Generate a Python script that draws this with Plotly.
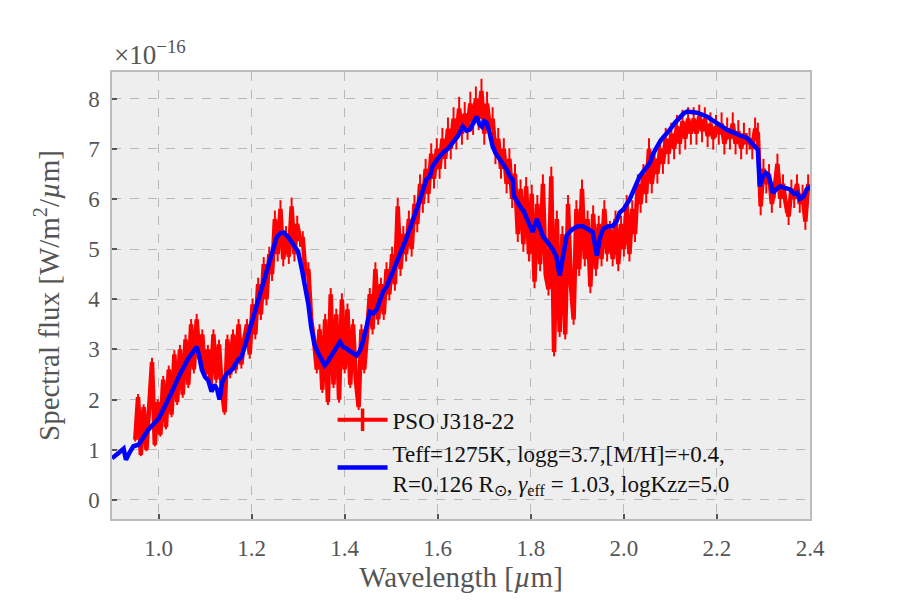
import plotly.graph_objects as go

# Observed spectrum (flux in units of 1e-16 W/m^2/um)
wl_obs = [
    0.950, 0.956, 0.962, 0.968, 0.974, 0.980, 0.986, 0.992, 0.998, 1.004,
    1.010, 1.016, 1.022, 1.028, 1.034, 1.040, 1.046, 1.052, 1.058, 1.064,
    1.070, 1.076, 1.082, 1.088, 1.094, 1.100, 1.106, 1.112, 1.118, 1.124,
    1.130, 1.136, 1.142, 1.148, 1.154, 1.160, 1.166, 1.172, 1.178, 1.184,
    1.190, 1.196, 1.202, 1.208, 1.214, 1.220, 1.226, 1.232, 1.238, 1.244,
    1.250, 1.256, 1.262, 1.268, 1.274, 1.280, 1.286, 1.292, 1.298, 1.304,
    1.310, 1.316, 1.322, 1.328, 1.334, 1.340, 1.346, 1.352, 1.358, 1.364,
    1.370, 1.376, 1.382, 1.388, 1.394, 1.400, 1.406, 1.412, 1.418, 1.424,
    1.430, 1.436, 1.442, 1.448, 1.454, 1.460, 1.466, 1.472, 1.478, 1.484,
    1.490, 1.496, 1.502, 1.508, 1.514, 1.520, 1.526, 1.532, 1.538, 1.544,
    1.550, 1.556, 1.562, 1.568, 1.574, 1.580, 1.586, 1.592, 1.598, 1.604,
    1.610, 1.616, 1.622, 1.628, 1.634, 1.640, 1.646, 1.652, 1.658, 1.664,
    1.670, 1.676, 1.682, 1.688, 1.694, 1.700, 1.706, 1.712, 1.718, 1.724,
    1.730, 1.736, 1.742, 1.748, 1.754, 1.760, 1.766, 1.772, 1.778, 1.784,
    1.790, 1.796, 1.802, 1.808, 1.814, 1.820, 1.826, 1.832, 1.838, 1.844,
    1.850, 1.856, 1.862, 1.868, 1.874, 1.880, 1.886, 1.892, 1.898, 1.904,
    1.910, 1.916, 1.922, 1.928, 1.934, 1.940, 1.946, 1.952, 1.958, 1.964,
    1.970, 1.976, 1.982, 1.988, 1.994, 2.000, 2.006, 2.012, 2.018, 2.024,
    2.030, 2.036, 2.042, 2.048, 2.054, 2.060, 2.066, 2.072, 2.078, 2.084,
    2.090, 2.096, 2.102, 2.108, 2.114, 2.120, 2.126, 2.132, 2.138, 2.144,
    2.150, 2.156, 2.162, 2.168, 2.174, 2.180, 2.186, 2.192, 2.198, 2.204,
    2.210, 2.216, 2.222, 2.228, 2.234, 2.240, 2.246, 2.252, 2.258, 2.264,
    2.270, 2.276, 2.282, 2.288, 2.294, 2.300, 2.306, 2.312, 2.318, 2.324,
    2.330, 2.336, 2.342, 2.348, 2.354, 2.360, 2.366, 2.372, 2.378, 2.384,
    2.390, 2.396,
]
flux_obs = [
    1.20, 2.05, 0.90, 1.85, 1.00, 2.00, 2.75, 1.10, 1.95, 1.30,
    2.40, 1.45, 2.60, 1.70, 2.90, 1.95, 3.00, 2.10, 3.20, 2.30,
    3.50, 2.60, 3.60, 2.80, 3.30, 2.50, 3.00, 2.30, 3.30, 2.40,
    3.10, 2.20, 1.75, 3.20, 2.50, 3.30, 2.60, 3.50, 2.70, 3.20,
    3.50, 2.90, 3.90, 3.30, 4.30, 3.70, 4.70, 4.00, 4.90, 4.50,
    5.60, 4.90, 5.80, 4.80, 5.30, 4.85, 5.85, 4.90, 5.50, 5.20,
    5.20, 4.50, 4.60, 3.60, 3.20, 2.60, 3.40, 2.20, 3.60, 1.95,
    4.10, 2.30, 3.70, 2.00, 4.00, 2.60, 3.80, 2.30, 3.50, 2.40,
    1.85, 3.40, 2.60, 3.30, 4.10, 3.40, 4.60, 3.60, 4.30, 3.70,
    4.60, 4.10, 4.90, 4.30, 5.85, 4.60, 5.30, 4.90, 5.60, 5.00,
    5.90, 5.50, 6.30, 5.90, 6.60, 6.10, 6.90, 6.40, 7.00, 6.60,
    7.20, 6.80, 7.40, 7.00, 7.60, 7.20, 7.80, 7.30, 7.70, 7.40,
    7.90, 7.50, 8.00, 7.60, 8.15, 7.30, 7.90, 7.40, 7.60, 6.90,
    7.20, 6.60, 7.00, 6.30, 6.80, 6.00, 6.50, 5.30, 6.20, 5.10,
    6.25, 4.90, 6.10, 4.35, 5.90, 4.70, 6.30, 4.50, 4.20, 6.45,
    2.95, 5.60, 3.35, 5.30, 3.30, 5.90, 4.30, 3.60, 5.80, 4.60,
    6.20, 4.80, 5.60, 4.25, 5.70, 4.60, 5.50, 4.80, 5.80, 4.90,
    5.40, 4.80, 5.60, 4.70, 5.50, 5.00, 5.90, 4.90, 5.80, 5.30,
    6.30, 5.90, 6.50, 6.10, 7.00, 6.30, 6.80, 6.50, 7.00, 6.70,
    7.20, 6.90, 7.30, 7.00, 7.45, 7.10, 7.55, 7.20, 7.60, 7.30,
    7.60, 7.30, 7.65, 7.35, 7.60, 7.25, 7.50, 7.20, 7.45, 7.30,
    7.50, 7.10, 7.40, 7.20, 7.50, 7.10, 7.35, 7.00, 7.30, 7.10,
    7.20, 7.00, 7.40, 7.30, 5.85, 6.60, 6.30, 6.50, 5.90, 6.20,
    6.70, 6.00, 6.30, 5.90, 5.65, 6.20, 6.00, 6.30, 5.90, 6.10,
    5.55, 6.30,
]

# Best-fit model spectrum
wl_mod = [
    0.900, 0.910, 0.920, 0.925, 0.930, 0.938, 0.946, 0.957, 0.967, 0.978,
    0.990, 1.000, 1.010, 1.020, 1.030, 1.043, 1.054, 1.064, 1.074, 1.082,
    1.088, 1.093, 1.100, 1.107, 1.114, 1.120, 1.126, 1.131, 1.137, 1.145,
    1.152, 1.160, 1.170, 1.178, 1.185, 1.193, 1.200, 1.208, 1.215, 1.222,
    1.228, 1.236, 1.243, 1.254, 1.262, 1.270, 1.280, 1.290, 1.300, 1.308,
    1.315, 1.322, 1.328, 1.335, 1.342, 1.350, 1.357, 1.363, 1.368, 1.375,
    1.382, 1.390, 1.397, 1.404, 1.412, 1.420, 1.426, 1.433, 1.439, 1.447,
    1.454, 1.462, 1.469, 1.476, 1.482, 1.490, 1.497, 1.508, 1.518, 1.530,
    1.540, 1.548, 1.555, 1.562, 1.568, 1.576, 1.583, 1.589, 1.600, 1.611,
    1.622, 1.632, 1.643, 1.654, 1.662, 1.669, 1.677, 1.684, 1.690, 1.695,
    1.700, 1.705, 1.712, 1.718, 1.725, 1.733, 1.740, 1.748, 1.755, 1.761,
    1.764, 1.770, 1.777, 1.785, 1.792, 1.798, 1.804, 1.813, 1.820, 1.826,
    1.835, 1.847, 1.855, 1.862, 1.870, 1.877, 1.884, 1.890, 1.900, 1.912,
    1.922, 1.933, 1.942, 1.948, 1.955, 1.965, 1.976, 1.984, 1.991, 2.000,
    2.013, 2.024, 2.034, 2.042, 2.050, 2.056, 2.063, 2.071, 2.078, 2.084,
    2.092, 2.099, 2.110, 2.120, 2.128, 2.136, 2.147, 2.157, 2.168, 2.179,
    2.190, 2.200, 2.210, 2.221, 2.232, 2.243, 2.254, 2.264, 2.270, 2.277,
    2.283, 2.288, 2.292, 2.296, 2.299, 2.305, 2.310, 2.316, 2.320, 2.328,
    2.336, 2.346, 2.357, 2.366, 2.372, 2.378, 2.386, 2.393, 2.400,
]
flux_mod = [
    0.83, 0.92, 0.98, 1.02, 0.80, 0.95, 1.07, 1.10, 1.25, 1.40,
    1.52, 1.62, 1.80, 1.98, 2.18, 2.45, 2.65, 2.82, 2.95, 3.05,
    2.85, 2.60, 2.45, 2.38, 2.16, 2.30, 2.20, 2.00, 2.35, 2.50,
    2.55, 2.62, 2.78, 2.85, 3.05, 3.30, 3.55, 3.80, 4.00, 4.25,
    4.47, 4.70, 4.94, 5.24, 5.32, 5.33, 5.22, 5.10, 4.95, 4.60,
    4.30, 3.90, 3.45, 3.10, 2.95, 2.78, 2.68, 2.75, 2.82, 2.95,
    3.05, 3.15, 3.05, 3.02, 2.96, 2.92, 2.88, 2.98, 3.15, 3.45,
    3.75, 3.72, 3.80, 3.98, 4.14, 4.25, 4.40, 4.65, 4.87, 5.15,
    5.40, 5.65, 5.80, 6.00, 6.20, 6.39, 6.45, 6.65, 6.80, 6.92,
    7.00, 7.12, 7.25, 7.44, 7.36, 7.38, 7.50, 7.64, 7.48, 7.44,
    7.55, 7.52, 7.30, 7.05, 6.90, 6.79, 6.70, 6.59, 6.45, 6.39,
    6.05, 5.95, 5.85, 5.75, 5.60, 5.45, 5.34, 5.60, 5.40, 5.26,
    5.15, 5.00, 4.85, 4.47, 4.90, 5.26, 5.35, 5.40, 5.45, 5.46,
    5.40, 5.34, 4.87, 5.20, 5.40, 5.45, 5.46, 5.55, 5.73, 5.80,
    6.00, 6.25, 6.45, 6.55, 6.65, 6.72, 6.90, 7.05, 7.15, 7.22,
    7.30, 7.38, 7.52, 7.64, 7.70, 7.74, 7.73, 7.72, 7.68, 7.64,
    7.57, 7.52, 7.45, 7.38, 7.33, 7.28, 7.25, 7.22, 7.16, 7.12,
    7.05, 6.98, 6.25, 6.38, 6.45, 6.52, 6.48, 6.30, 6.12, 6.20,
    6.25, 6.22, 6.19, 6.10, 6.12, 6.00, 6.05, 6.19, 6.25,
]

x_ticks = [1.0, 1.2, 1.4, 1.6, 1.8, 2.0, 2.2, 2.4]
x_tick_labels = ["1.0", "1.2", "1.4", "1.6", "1.8", "2.0", "2.2", "2.4"]
y_ticks = [0, 1, 2, 3, 4, 5, 6, 7, 8]

label_obs = "PSO J318-22"
label_mod = ("Teff=1275K, logg=3.7,[M/H]=+0.4,<br>"
             "R=0.126 R<sub>⊙</sub>, <i>γ</i><sub>eff</sub> = 1.03, logKzz=5.0")

FONT = "Liberation Serif"
TXT = "#555555"

fig = go.Figure()

fig.add_trace(go.Scatter(
    x=wl_obs, y=flux_obs, mode="lines",
    line=dict(color="#ff0000", width=4.5),
    error_y=dict(type="percent", value=3, color="#ff0000", thickness=2, width=0),
    showlegend=False,
))
# legend entry (errorbar-style glyph)
fig.add_trace(go.Scatter(
    x=[None], y=[None], mode="lines+markers", name=label_obs,
    line=dict(color="#ff0000", width=4),
    marker=dict(symbol="line-ns", size=20, color="#ff0000",
                line=dict(color="#ff0000", width=3.5)),
))
fig.add_trace(go.Scatter(
    x=wl_mod, y=flux_mod, mode="lines", name=label_mod,
    line=dict(color="#0000ff", width=4.5),
))

fig.update_layout(
    width=900, height=600, autosize=False,
    margin=dict(l=112, r=90, t=72, b=79),
    paper_bgcolor="white", plot_bgcolor="#eeeeee",
    font=dict(family=FONT, size=23, color=TXT),
    legend=dict(x=0.316, y=0.27, xanchor="left", yanchor="top", itemwidth=50,
                bgcolor="rgba(0,0,0,0)",
                font=dict(family=FONT, size=23, color="#111111"),
                tracegroupgap=0),
    annotations=[dict(text="×10<sup>−16</sup>", xref="paper", yref="paper",
                      x=0, y=1.0, xanchor="left", yanchor="bottom",
                      showarrow=False,
                      font=dict(family=FONT, size=27, color=TXT))],
)
fig.update_xaxes(
    range=[0.9, 2.4], tickvals=x_ticks, ticktext=x_tick_labels,
    ticks="inside", ticklen=5, tickwidth=1.5, tickcolor="#555555",
    tickfont=dict(family=FONT, size=23, color=TXT),
    showgrid=True, gridcolor="#b8b8b8", griddash="dash", gridwidth=1,
    showline=True, linecolor="#bcbcbc", linewidth=1.5, mirror=True,
    zeroline=False, ticklabelstandoff=8,
    title=dict(text="Wavelength [<i>µ</i>m]",
               font=dict(family=FONT, size=29, color=TXT), standoff=6),
)
fig.update_yaxes(
    range=[-0.38, 8.53], tickvals=y_ticks,
    ticks="inside", ticklen=5, tickwidth=1.5, tickcolor="#555555",
    tickfont=dict(family=FONT, size=23, color=TXT),
    showgrid=True, gridcolor="#b8b8b8", griddash="dash", gridwidth=1,
    showline=True, linecolor="#bcbcbc", linewidth=1.5, mirror=True,
    zeroline=False, ticklabelstandoff=6,
    title=dict(text="Spectral flux [W/m<sup>2</sup>/<i>µ</i>m]",
               font=dict(family=FONT, size=29, color=TXT), standoff=20),
)

fig.write_html("out.html")
